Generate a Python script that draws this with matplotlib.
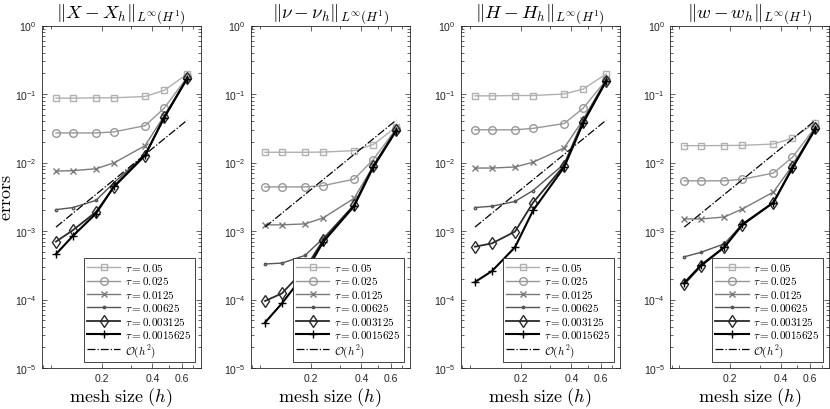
import numpy as np
import matplotlib
matplotlib.use("Agg")
import matplotlib.pyplot as plt
from matplotlib.ticker import FixedLocator, LogLocator, NullFormatter, FixedFormatter

plt.rcParams["font.family"] = ["Liberation Sans", "DejaVu Sans"]

# 메쉬 크기
h = [0.107, 0.135, 0.185, 0.237, 0.362, 0.47, 0.644]
taus = ["0.05", "0.025", "0.0125", "0.00625", "0.003125", "0.0015625"]
ref_h2 = [0.00114, 0.00182, 0.00342, 0.00562, 0.0131, 0.0221, 0.0415]

titles = [r"$\|X - X_h\|_{L^\infty(H^1)}$",
          r"$\|\nu - \nu_h\|_{L^\infty(H^1)}$",
          r"$\|H - H_h\|_{L^\infty(H^1)}$",
          r"$\|w - w_h\|_{L^\infty(H^1)}$"]

# 패널별 오차 (행: tau 순서)
err_X = [
    [0.087, 0.087, 0.088, 0.088, 0.092, 0.113, 0.195],
    [0.027, 0.027, 0.027, 0.028, 0.0345, 0.062, 0.175],
    [0.0075, 0.0076, 0.0081, 0.0099, 0.0176, 0.048, 0.17],
    [0.00205, 0.0022, 0.0028, 0.0051, 0.013, 0.046, 0.17],
    [0.0007, 0.00103, 0.0019, 0.0044, 0.0126, 0.0457, 0.17],
    [0.00046, 0.00085, 0.0018, 0.0045, 0.0128, 0.045, 0.168],
]
err_nu = [
    [0.0141, 0.0141, 0.0141, 0.0142, 0.0149, 0.0182, 0.033],
    [0.0044, 0.0044, 0.0044, 0.0046, 0.0057, 0.011, 0.031],
    [0.00123, 0.00123, 0.00127, 0.00155, 0.0030, 0.0088, 0.030],
    [0.00033, 0.00034, 0.00044, 0.00078, 0.0024, 0.0088, 0.030],
    [0.000095, 0.000123, 0.00028, 0.00073, 0.0024, 0.0088, 0.030],
    [0.000046, 0.000088, 0.00024, 0.00069, 0.0023, 0.0085, 0.029],
]
err_H = [
    [0.094, 0.094, 0.095, 0.095, 0.1, 0.118, 0.196],
    [0.030, 0.030, 0.030, 0.0315, 0.037, 0.062, 0.16],
    [0.0083, 0.0083, 0.0086, 0.0101, 0.0163, 0.042, 0.16],
    [0.0022, 0.0023, 0.0027, 0.0039, 0.0095, 0.042, 0.16],
    [0.00059, 0.00066, 0.00098, 0.0026, 0.009, 0.0386, 0.155],
    [0.00018, 0.00026, 0.00058, 0.002, 0.0085, 0.0377, 0.155],
]
err_w = [
    [0.0176, 0.0176, 0.0177, 0.0178, 0.0186, 0.0226, 0.038],
    [0.0054, 0.0054, 0.0054, 0.0057, 0.007, 0.0119, 0.033],
    [0.0015, 0.0015, 0.0016, 0.0021, 0.0037, 0.009, 0.032],
    [0.00042, 0.00049, 0.00065, 0.00126, 0.0026, 0.0085, 0.032],
    [0.000168, 0.00031, 0.00058, 0.00122, 0.0026, 0.0085, 0.032],
    [0.000175, 0.00032, 0.00058, 0.00125, 0.0026, 0.0083, 0.031],
]
all_err = [err_X, err_nu, err_H, err_w]

# 선 스타일 (tau 순서)
colors = ["#b0b0b0", "#979797", "#7a7a7a", "#555555", "#2a2a2a", "#000000"]
markers = ["s", "o", "x", ".", "d", "+"]
msizes = [4.2, 5.5, 4.0, 3.5, 6, 6]
lws = [1.0, 1.0, 1.0, 1.0, 1.3, 1.5]

fig = plt.figure(figsize=(8.3, 4.1), dpi=100)
lefts = [41.7, 250.7, 460.7, 670.0]
axw = 159 / 830
for k in range(4):
    ax = fig.add_axes([lefts[k] / 830, 41 / 410, axw, (369 - 26.5) / 410])
    for i in range(6):
        ax.plot(h, all_err[k][i], color=colors[i], marker=markers[i], markersize=msizes[i],
                markerfacecolor="none", markeredgecolor=colors[i], linewidth=lws[i],
                markeredgewidth=1.0, label=r"$\tau = %s$" % taus[i])
    ax.plot(h, ref_h2, "-.", color="black", linewidth=0.9, label=r"$\mathcal{O}(h^2)$")
    ax.set_xscale("log")
    ax.set_yscale("log")
    ax.set_xlim(0.088, 0.775)
    ax.set_ylim(1e-5, 1)
    ax.xaxis.set_major_locator(FixedLocator([0.2, 0.4, 0.6]))
    ax.xaxis.set_major_formatter(FixedFormatter(["0.2", "0.4", "0.6"]))
    ax.xaxis.set_minor_locator(LogLocator(base=10, subs=np.arange(1, 10), numticks=20))
    ax.xaxis.set_minor_formatter(NullFormatter())
    ax.yaxis.set_major_locator(LogLocator(base=10, numticks=10))
    ax.yaxis.set_minor_locator(LogLocator(base=10, subs=np.arange(2, 10), numticks=20))
    ax.yaxis.set_minor_formatter(NullFormatter())
    ax.tick_params(which="both", direction="in", top=True, right=True,
                   colors="#262626", labelcolor="#262626", labelsize=7.5, width=0.5)
    ax.tick_params(which="major", length=3.5)
    ax.tick_params(which="minor", length=2)
    for s in ax.spines.values():
        s.set_color("#262626")
        s.set_linewidth(0.6)
    ax.set_title(titles[k], fontsize=13.5, math_fontfamily="cm", pad=3)
    ax.set_xlabel(r"$\mathrm{mesh\ size}\ (h)$", fontsize=13, math_fontfamily="cm", labelpad=2)
    if k == 0:
        ax.set_ylabel(r"$\mathrm{errors}$", fontsize=13, math_fontfamily="cm")
        ax.yaxis.set_label_coords(-0.165, 0.5)
    leg = ax.legend(loc="lower right", prop={"size": 8, "math_fontfamily": "cm"},
                    frameon=True, fancybox=False, framealpha=1, edgecolor="#262626",
                    handlelength=3.0, labelspacing=0.13, borderpad=0.3,
                    handletextpad=0.4, borderaxespad=0.55)
    leg.get_frame().set_linewidth(0.6)

fig.savefig("out.png", dpi=100)
